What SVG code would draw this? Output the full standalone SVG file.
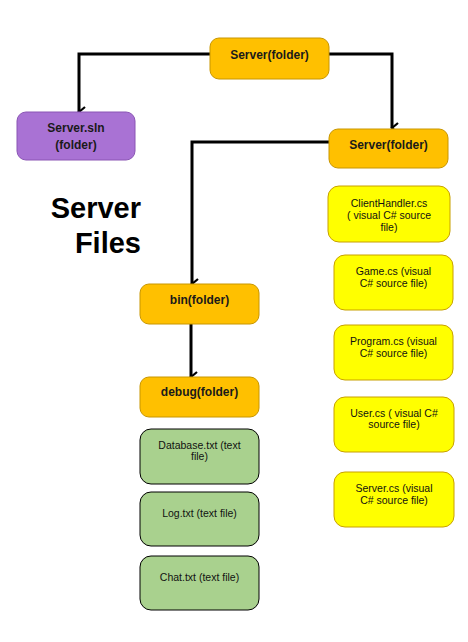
<svg xmlns="http://www.w3.org/2000/svg" width="468" height="642" viewBox="0 0 468 642">
<style>
  .folder rect { fill: #FFC000; stroke: #C89600; stroke-width: 1; }
  .sln rect { fill: #A972D4; stroke: #8A55B4; stroke-width: 1; }
  .src rect { fill: #FFFF00; stroke: #C8A000; stroke-width: 1; }
  .txt rect { fill: #A9D18E; stroke: #000; stroke-width: 1; }
  .bt { font-family: "Liberation Sans", Arial, sans-serif; font-weight: bold; font-size: 12px; fill: #1a1a1a; text-anchor: middle; }
  .t { font-family: "Liberation Sans", Arial, sans-serif; font-size: 10.5px; fill: #111; text-anchor: middle; }
  .title { font-family: "Liberation Sans", Arial, sans-serif; font-weight: bold; font-size: 29px; fill: #000; text-anchor: end; }
  .conn { fill: none; stroke: #000; stroke-width: 3; }
</style>
<defs>
  <marker id="arr" markerWidth="12" markerHeight="12" refX="6" refY="10" orient="auto" markerUnits="userSpaceOnUse" viewBox="0 0 12 12">
    <polyline points="1,4 6,10 11,4" fill="none" stroke="#000" stroke-width="2.2"/>
  </marker>
</defs>
<rect width="468" height="642" fill="#fff"/>

<g id="connectors">
  <polyline class="conn" points="210,54 79,54 79,112" marker-end="url(#arr)"/>
  <polyline class="conn" points="329,54 392,54 392,128" marker-end="url(#arr)"/>
  <polyline class="conn" points="329,142 192,142 192,284" marker-end="url(#arr)"/>
  <polyline class="conn" points="191,324 191,377" marker-end="url(#arr)"/>
</g>

<g id="server-root" class="folder">
  <rect x="210" y="38" width="119" height="41" rx="9"/>
  <text class="bt" x="269.5" y="59">Server(folder)</text>
</g>
<g id="server-sln" class="sln">
  <rect x="17" y="112" width="118" height="48" rx="9"/>
  <text class="bt" x="76" y="132">Server.sln</text>
  <text class="bt" x="76" y="149">(folder)</text>
</g>
<g id="server-folder" class="folder">
  <rect x="329" y="129" width="119" height="39" rx="9"/>
  <text class="bt" x="388.5" y="149">Server(folder)</text>
</g>

<g id="title">
  <text class="title" x="141" y="218">Server</text>
  <text class="title" x="141" y="253">Files</text>
</g>

<g id="bin" class="folder">
  <rect x="140" y="284" width="119" height="40" rx="9"/>
  <text class="bt" x="199.5" y="304">bin(folder)</text>
</g>
<g id="debug" class="folder">
  <rect x="140" y="377" width="119" height="40" rx="9"/>
  <text class="bt" x="199.5" y="396">debug(folder)</text>
</g>

<g id="database" class="txt">
  <rect x="140" y="429" width="119" height="55" rx="11"/>
  <text class="t" x="199.5" y="449">Database.txt (text</text>
  <text class="t" x="199.5" y="460">file)</text>
</g>
<g id="log" class="txt">
  <rect x="140" y="492" width="119" height="54" rx="11"/>
  <text class="t" x="199.5" y="517">Log.txt (text file)</text>
</g>
<g id="chat" class="txt">
  <rect x="140" y="556" width="119" height="54" rx="11"/>
  <text class="t" x="199.5" y="581">Chat.txt (text file)</text>
</g>

<g id="clienthandler" class="src">
  <rect x="328" y="186" width="122" height="56" rx="11"/>
  <text class="t" x="389" y="207">ClientHandler.cs</text>
  <text class="t" x="389" y="219">( visual C# source</text>
  <text class="t" x="389" y="231">file)</text>
</g>
<g id="game" class="src">
  <rect x="334" y="255" width="119" height="55" rx="11"/>
  <text class="t" x="393.5" y="275">Game.cs (visual</text>
  <text class="t" x="393.5" y="287">C# source file)</text>
</g>
<g id="program" class="src">
  <rect x="334" y="325" width="119" height="55" rx="11"/>
  <text class="t" x="393.5" y="345">Program.cs (visual</text>
  <text class="t" x="393.5" y="357">C# source file)</text>
</g>
<g id="user" class="src">
  <rect x="334" y="397" width="120" height="55" rx="11"/>
  <text class="t" x="394" y="417">User.cs ( visual C#</text>
  <text class="t" x="394" y="428">source file)</text>
</g>
<g id="servercs" class="src">
  <rect x="334" y="472" width="120" height="55" rx="11"/>
  <text class="t" x="394" y="492">Server.cs (visual</text>
  <text class="t" x="394" y="504">C# source file)</text>
</g>
</svg>
